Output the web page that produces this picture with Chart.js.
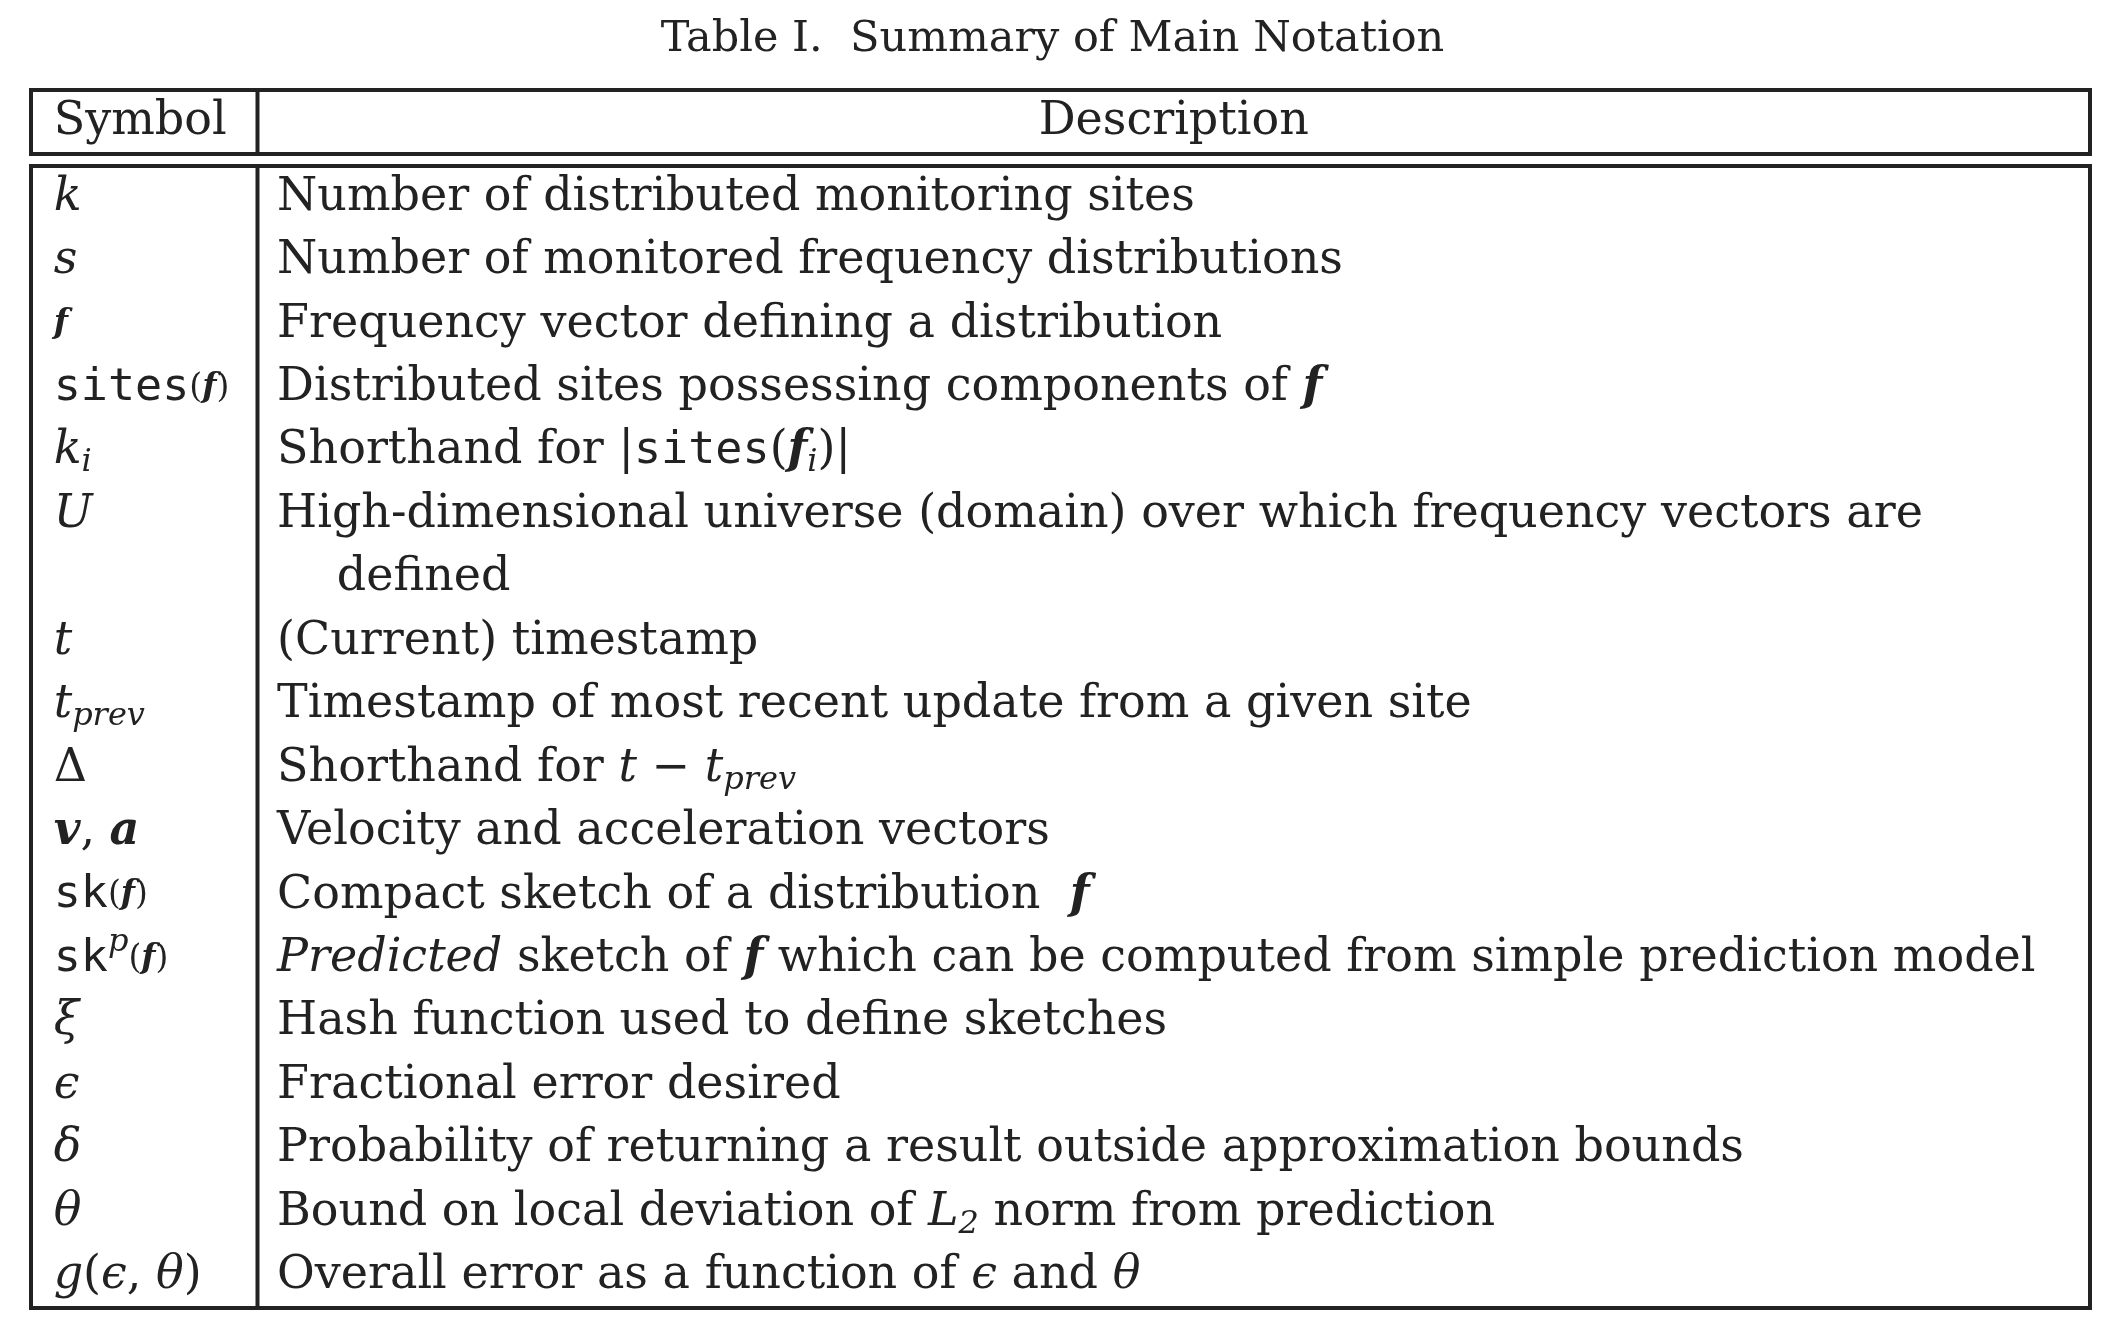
<!DOCTYPE html>
<html>
<head>
<meta charset="utf-8">
<script src="https://cdn.jsdelivr.net/npm/chart.js@4.4.0/dist/chart.umd.min.js"></script>
<style>
  body { margin: 0; background: #fff; }
</style>
</head>
<body>
<canvas id="tabela" width="2118" height="1326"></canvas>
<script>
// Texto da tabela: cada linha é uma lista de [texto, estilo]
// estilos: r=romano, i=itálico, bi=negrito itálico, m=mono, sub/sup, rs/bis = pequenos
const titulo = 'Table I.  Summary of Main Notation';
const cabecalho = ['Symbol', 'Description'];

const simbolos = [
    [['k', 'i']],
    [['s', 'i']],
    [['f', 'bis']],
    [['sites', 'm'], ['(', 'rs'], ['f', 'bis'], [')', 'rs']],
    [['k', 'i'], ['i', 'sub']],
    [['U', 'i']],
    [],
    [['t', 'i']],
    [['t', 'i'], ['prev', 'sub']],
    [['Δ', 'r']],
    [['v', 'bi'], [', ', 'r'], ['a', 'bi']],
    [['sk', 'm'], ['(', 'rs'], ['f', 'bis'], [')', 'rs']],
    [['sk', 'm'], ['p', 'sup'], ['(', 'rs'], ['f', 'bis'], [')', 'rs']],
    [['ξ', 'i']],
    [['ϵ', 'i']],
    [['δ', 'i']],
    [['θ', 'i']],
    [['g', 'i'], ['(', 'r'], ['ϵ', 'i'], [', ', 'r'], ['θ', 'i'], [')', 'r']]
];

const descricoes = [
    [['Number of distributed monitoring sites', 'r']],
    [['Number of monitored frequency distributions', 'r']],
    [['Frequency vector defining a distribution', 'r']],
    [['Distributed sites possessing components of ', 'r'], ['f', 'bi']],
    [['Shorthand for |', 'r'], ['sites', 'm'], ['(', 'r'], ['f', 'bi'], ['i', 'sub'], [')|', 'r']],
    [['High-dimensional universe (domain) over which frequency vectors are', 'r']],
    [['defined', 'indent']],
    [['(Current) timestamp', 'r']],
    [['Timestamp of most recent update from a given site', 'r']],
    [['Shorthand for ', 'r'], ['t', 'i'], [' − ', 'r'], ['t', 'i'], ['prev', 'sub']],
    [['Velocity and acceleration vectors', 'r']],
    [['Compact sketch of a distribution  ', 'r'], ['f', 'bi']],
    [['Predicted', 'i'], [' sketch of ', 'r'], ['f', 'bi'], [' which can be computed from simple prediction model', 'r']],
    [['Hash function used to define sketches', 'r']],
    [['Fractional error desired', 'r']],
    [['Probability of returning a result outside approximation bounds', 'r']],
    [['Bound on local deviation of ', 'r'], ['L', 'i'], ['2', 'sub'], [' norm from prediction', 'r']],
    [['Overall error as a function of ', 'r'], ['ϵ', 'i'], [' and ', 'r'], ['θ', 'i']]
];

const SERIF = '"DejaVu Serif", serif';
const MONO = '"DejaVu Sans Mono", monospace';
var tam = 40; // ajustado depois para caber a linha mais longa

function fonte(estilo) {
    switch (estilo) {
        case 'i': return 'italic ' + tam + 'px ' + SERIF;
        case 'bi': return 'italic bold ' + tam + 'px ' + SERIF;
        case 'bis': return 'italic bold ' + Math.round(tam * 0.72) + 'px ' + SERIF;
        case 'rs': return Math.round(tam * 0.72) + 'px ' + SERIF;
        case 'm': return tam * 0.98 + 'px ' + MONO;
        case 'sub': case 'sup': return 'italic ' + Math.round(tam * 0.7) + 'px ' + SERIF;
        default: return tam + 'px ' + SERIF;
    }
}

function larguraLinha(ctx, segs) {
    var w = 0;
    segs.forEach(function (s) { ctx.font = fonte(s[1]); w += ctx.measureText(s[0]).width; });
    return w;
}

function desenhaLinha(ctx, segs, x, y) {
    segs.forEach(function (s) {
        ctx.font = fonte(s[1]);
        var dy = 0;
        if (s[1] === 'sub') dy = tam * 0.25;
        if (s[1] === 'sup') dy = -tam * 0.35;
        if (s[1] === 'indent') { ctx.font = fonte('r'); x += tam * 1.3; }
        ctx.fillText(s[0], x, y + dy);
        x += ctx.measureText(s[0]).width;
    });
}

const tabelaPlugin = {
    id: 'tabela',
    afterDraw: function (chart) {
        const ctx = chart.ctx;
        const area = chart.chartArea;
        const sx = chart.scales.x, sy = chart.scales.y;
        const xDiv = sx.getPixelForValue(11.0);
        const xDesc = sx.getPixelForValue(11.95);
        const xSimb = sx.getPixelForValue(1.1);

        // ajusta o tamanho da fonte pela linha mais longa
        tam = 40;
        var w = larguraLinha(ctx, descricoes[12]);
        tam = Math.floor(40 * (area.right - 22 - xDesc) / w);

        ctx.save();
        ctx.fillStyle = '#222';
        ctx.strokeStyle = '#222';
        ctx.lineWidth = 4;
        ctx.textBaseline = 'middle';

        // título
        ctx.textAlign = 'center';
        ctx.font = Math.round(tam * 0.93) + 'px ' + SERIF;
        ctx.fillText(titulo, (area.left + area.right) / 2 - 8, 40);

        // cabeçalho
        const hTop = 90, hBot = 154;
        ctx.strokeRect(area.left, hTop, area.right - area.left, hBot - hTop);
        ctx.beginPath(); ctx.moveTo(xDiv, hTop); ctx.lineTo(xDiv, hBot); ctx.stroke();
        ctx.font = tam + 'px ' + SERIF;
        ctx.textAlign = 'left';
        ctx.fillText(cabecalho[0], xSimb, (hTop + hBot) / 2);
        ctx.textAlign = 'center';
        ctx.fillText(cabecalho[1], (xDiv + area.right) / 2, (hTop + hBot) / 2);

        // corpo
        ctx.strokeRect(area.left, area.top, area.right - area.left, area.bottom - area.top);
        ctx.beginPath(); ctx.moveTo(xDiv, area.top); ctx.lineTo(xDiv, area.bottom); ctx.stroke();

        ctx.textAlign = 'left';
        for (var i = 0; i < descricoes.length; i++) {
            var y = sy.getPixelForValue(i + 0.5);
            desenhaLinha(ctx, simbolos[i], xSimb, y);
            desenhaLinha(ctx, descricoes[i], xDesc, y);
        }
        ctx.restore();
    }
};

new Chart(document.getElementById('tabela').getContext('2d'), {
    type: 'scatter',
    data: { datasets: [{ data: [] }] },
    options: {
        responsive: false,
        animation: false,
        devicePixelRatio: 1,
        layout: { padding: { left: 31, right: 28, top: 166, bottom: 18 } },
        plugins: { legend: { display: false }, tooltip: { enabled: false } },
        scales: {
            x: { type: 'linear', min: 0, max: 100, display: false },
            y: { type: 'linear', min: 0, max: descricoes.length, reverse: true, display: false }
        }
    },
    plugins: [tabelaPlugin]
});
</script>
</body>
</html>
